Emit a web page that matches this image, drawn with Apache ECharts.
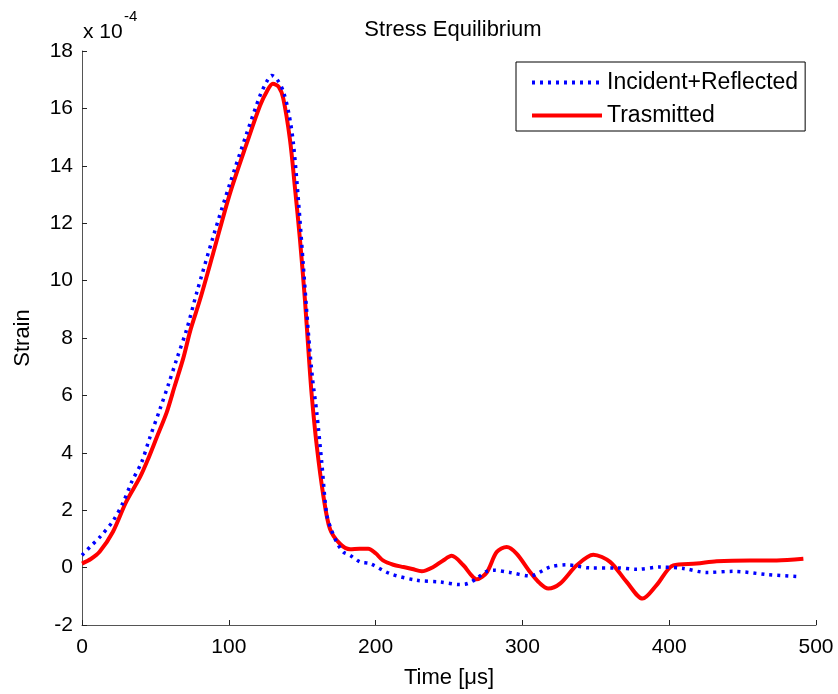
<!DOCTYPE html>
<html>
<head>
<meta charset="utf-8">
<script src="https://cdn.jsdelivr.net/npm/echarts@6/dist/echarts.min.js"></script>
<style>html,body{margin:0;padding:0;background:#fff;}#c{width:838px;height:694px;}</style>
</head>
<body>
<div id="c"></div>
<script>
// Time in microseconds, strain in units of 1e-4
const transTime = [0, 6, 12, 21, 30, 39.5, 45, 51, 57.7, 63, 69, 74, 80.4, 89.4, 100.8, 112.2, 121.3, 126, 130, 134, 137.1, 141.7, 145, 148.5, 151.9, 154.2, 156.5, 159.9, 164.4, 168.9, 175.7, 182.6, 189, 195, 200, 205, 212, 219, 225, 231.4, 239.3, 246, 251.8, 259.8, 265, 268.9, 275.7, 282.5, 289.3, 296, 305.2, 312, 317.6, 325.6, 337, 348.3, 359.7, 371, 381.9, 391.4, 402.8, 418.7, 432.3, 455, 473.2, 491.4];
const transStrain = [0.14, 0.3, 0.55, 1.24, 2.28, 3.15, 3.78, 4.55, 5.41, 6.3, 7.3, 8.3, 9.34, 10.96, 13.04, 14.78, 16.1, 16.6, 16.86, 16.75, 16.35, 14.9, 13.27, 11.42, 9.3, 7.6, 6.0, 4.25, 2.51, 1.35, 0.83, 0.64, 0.66, 0.66, 0.5, 0.25, 0.1, 0.02, -0.05, -0.13, 0.02, 0.25, 0.41, 0.08, -0.25, -0.41, -0.17, 0.54, 0.72, 0.49, -0.15, -0.55, -0.73, -0.56, 0.08, 0.45, 0.2, -0.5, -1.08, -0.61, 0.08, 0.14, 0.22, 0.25, 0.25, 0.31];

const incTime = [0, 6, 12.3, 21.3, 28.1, 33.8, 40.6, 46, 53.1, 59, 64.5, 71.3, 78.1, 89.4, 100.8, 112.2, 121.3, 126, 129.2, 133, 137.1, 141, 144, 147.4, 150.8, 154.2, 157, 159.9, 163.3, 166.7, 170, 173.5, 178, 182.6, 189.4, 196.2, 209.8, 228, 244, 257.5, 263, 268.9, 275, 280.2, 291.6, 305.2, 318.8, 330.1, 346, 364.2, 377.8, 393.7, 409.6, 425.5, 443.7, 466.4, 489];
const incStrain = [0.43, 0.75, 1.07, 1.64, 2.28, 2.98, 3.67, 4.5, 5.52, 6.4, 7.26, 8.3, 9.57, 11.54, 13.39, 15.13, 16.45, 16.95, 17.15, 17.0, 16.6, 15.8, 14.78, 12.81, 10.5, 8.18, 6.6, 5.41, 3.67, 1.85, 1.3, 0.89, 0.54, 0.43, 0.2, 0.14, -0.21, -0.44, -0.5, -0.59, -0.55, -0.38, -0.15, -0.09, -0.17, -0.29, 0.02, 0.1, -0.01, -0.01, -0.06, 0.02, -0.03, -0.17, -0.13, -0.24, -0.32];

const xTicks = {min: 0, max: 500, interval: 100};
const yTicks = {min: -2, max: 18, interval: 2};

const FONT = '"Liberation Sans", Arial, sans-serif';
const pair = (t, v) => t.map((x, i) => [x, v[i]]);

const chart = echarts.init(document.getElementById('c'), null, {renderer: 'canvas'});
chart.setOption({
  animation: false,
  backgroundColor: '#fff',
  textStyle: {fontFamily: FONT, color: '#000'},
  title: {
    text: 'Stress Equilibrium',
    left: 448, top: 14, textAlign: 'center',
    textStyle: {fontFamily: FONT, fontSize: 22, fontWeight: 'normal', color: '#000'}
  },
  grid: {left: 82, right: 22, top: 51, bottom: 67, containLabel: false},
  legend: {
    orient: 'vertical',
    left: 516, top: 62,
    padding: [9, 7, 4, 14],
    itemWidth: 70, itemHeight: 14, itemGap: 10,
    borderColor: '#000', borderWidth: 1,
    backgroundColor: '#fff',
    itemStyle: {opacity: 0},
    lineStyle: {width: 4},
    textStyle: {fontFamily: FONT, fontSize: 23, color: '#000', lineHeight: 22},
    data: ['Incident+Reflected', 'Trasmitted']
  },
  graphic: [
    {type: 'text', left: 83, top: 22, style: {text: 'x 10', font: '21px ' + FONT, fill: '#000'}},
    {type: 'text', left: 124, top: 9, style: {text: '-4', font: '15px ' + FONT, fill: '#000'}}
  ],
  xAxis: {
    type: 'value', min: xTicks.min, max: xTicks.max, interval: xTicks.interval,
    name: 'Time [\u03bcs]', nameLocation: 'middle', nameGap: 42,
    nameTextStyle: {fontFamily: FONT, fontSize: 22, color: '#000'},
    axisLine: {show: true, onZero: false, lineStyle: {color: '#555', width: 1}},
    axisTick: {show: true, inside: true, length: 5, lineStyle: {color: '#222'}},
    axisLabel: {fontFamily: FONT, fontSize: 21, color: '#000', margin: 12},
    splitLine: {show: false}
  },
  yAxis: {
    type: 'value', min: yTicks.min, max: yTicks.max, interval: yTicks.interval,
    name: 'Strain', nameLocation: 'middle', nameGap: 48, nameRotate: 90,
    nameTextStyle: {fontFamily: FONT, fontSize: 22, color: '#000'},
    axisLine: {show: true, onZero: false, lineStyle: {color: '#555', width: 1}},
    axisTick: {show: true, inside: true, length: 5, lineStyle: {color: '#222'}},
    axisLabel: {fontFamily: FONT, fontSize: 21, color: '#000', margin: 9},
    splitLine: {show: false}
  },
  series: [
    {
      name: 'Incident+Reflected', type: 'line', data: pair(incTime, incStrain),
      showSymbol: false, symbol: 'none', smooth: 0.3, z: 3,
      itemStyle: {color: '#0000ff'},
      lineStyle: {color: '#0000ff', width: 3.5, type: [3, 5], cap: 'butt'}
    },
    {
      name: 'Trasmitted', type: 'line', data: pair(transTime, transStrain),
      showSymbol: false, symbol: 'none', smooth: 0.3, z: 2,
      itemStyle: {color: '#ff0000'},
      lineStyle: {color: '#ff0000', width: 4}
    }
  ]
});
</script>
</body>
</html>
